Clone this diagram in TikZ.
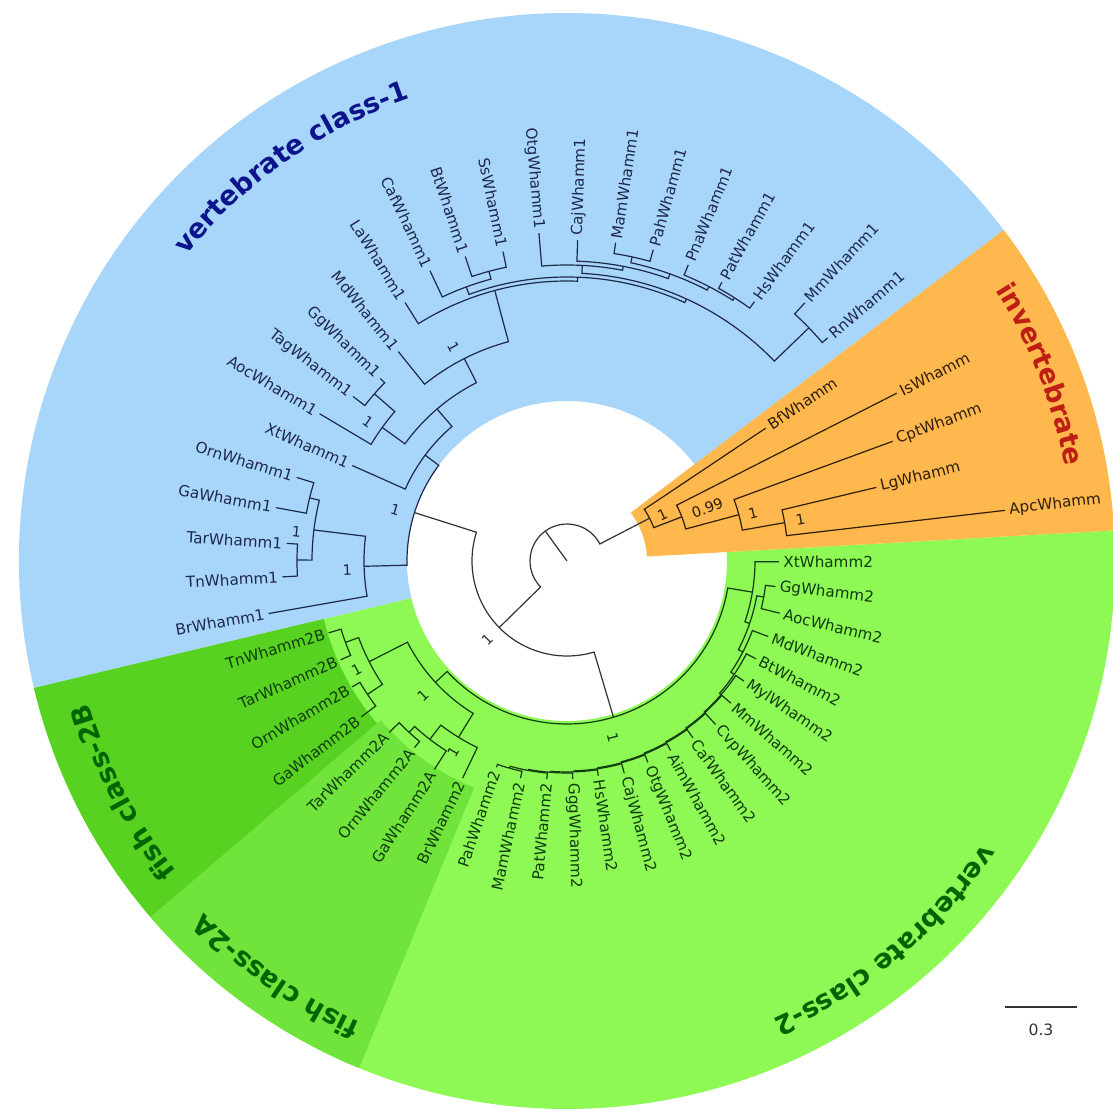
\documentclass[tikz,border=0pt]{standalone}
\usepackage{fontspec}
\setmainfont{DejaVu Sans}
\usetikzlibrary{decorations.text}
\definecolor{cblue}{RGB}{168,214,250}
\definecolor{corange}{RGB}{255,184,77}
\definecolor{cgreen}{RGB}{142,248,84}
\definecolor{cgreenA}{RGB}{112,228,58}
\definecolor{cgreenB}{RGB}{88,210,32}
\definecolor{tblue}{RGB}{12,20,140}
\definecolor{tred}{RGB}{190,30,20}
\definecolor{tgreen}{RGB}{0,100,0}
\definecolor{lone}{RGB}{30,40,75}
\definecolor{ltwo}{RGB}{15,60,15}
\definecolor{linv}{RGB}{45,30,10}
\definecolor{lzero}{RGB}{50,50,50}
\newcommand\ttlfont{\fontsize{13.5}{14}\selectfont\bfseries}
\makeatletter
\newcommand\setang[2]{\expandafter\xdef\csname ta@#1\endcsname{#2}}
\newcommand\getang[1]{\csname ta@#1\endcsname}
\newcommand\leaf[5]{%
  \pgfmathsetmacro\lfang{6.7925*#2-0.2}%
  \setang{#1}{\lfang}%
  \coordinate (#1) at (\lfang:#3);
  \pgfmathtruncatemacro\lfleft{(\lfang>90 && \lfang<270) ? 1 : 0}%
  \ifnum\lfleft=1
    \pgfmathsetmacro\lfrot{\lfang-180}%
    \node[leaflbl,#5,anchor=east,rotate=\lfrot] (#1t) at (#1) {#4};%
  \else
    \node[leaflbl,#5,anchor=west,rotate=\lfang] (#1t) at (#1) {#4};%
  \fi}
\newcommand\inode[5]{%
  \edef\inA{\getang{#2}}\edef\inB{\getang{#3}}%
  \pgfmathsetmacro\inM{(\inA+\inB)/2}%
  \setang{#1}{\inM}%
  \coordinate (#1) at (\inM:#4);
  \draw[#5] (#1) arc[start angle=\inM,end angle=\inA,radius=#4] -- (#2);
  \draw[#5] (#1) arc[start angle=\inM,end angle=\inB,radius=#4] -- (#3);}
\newcommand\nlab[5]{%
  \pgfmathtruncatemacro\nlleft{(#2>90 && #2<270) ? 1 : 0}%
  \ifnum\nlleft=1
    \pgfmathsetmacro\nlrot{#2-180}%
  \else
    \pgfmathsetmacro\nlrot{#2}%
  \fi
  \node[nodelbl,#5,rotate=\nlrot] (#1) at (#2:#3) {#4};}
\newcommand\sector[5]{%
  \fill[#5] (#1:#3) arc[start angle=#1,end angle=#2,radius=#3] -- (#2:#4) arc[start angle=#2,end angle=#1,radius=#4] -- cycle;}
\makeatother
\begin{document}
\begin{tikzpicture}[x=0.5pt,y=0.5pt,
  leaflbl/.style={font=\fontsize{7.6}{8}\selectfont,inner sep=2pt},
  nodelbl/.style={font=\fontsize{7.2}{8}\selectfont,inner sep=0pt},
  tI/.style={text=linv}, tone/.style={text=lone}, ttwo/.style={text=ltwo},
  brI/.style={draw=linv,line width=0.6pt},
  brone/.style={draw=lone,line width=0.6pt},
  brtwo/.style={draw=ltwo,line width=0.6pt},
  brzero/.style={draw=lzero,line width=0.6pt}]
\useasboundingbox (-567,-552) rectangle (546,561);
\clip (-567,-552) rectangle (546,561);
% background sectors
\sector{193.4}{363.2}{160}{548}{cgreen}
\sector{37.16}{193.4}{160}{548}{cblue}
\sector{3.2}{37.16}{80}{548}{corange}
\sector{193.4}{220.55}{250}{548}{cgreenB}
\sector{220.55}{247.7}{245}{548}{cgreenA}
% titles
\path[decorate,decoration={text along path,text align=center,text={|\ttlfont\color{tblue}|vertebrate class-1}}]
  (160:488) arc[start angle=160,end angle=90,radius=488];
\path[decorate,decoration={text along path,text align=center,text={|\ttlfont\color{tred}|invertebrate}}]
  (55:507) arc[start angle=55,end angle=-12,radius=507];
\path[decorate,decoration={text along path,text align=center,text={|\ttlfont\color{tgreen}|vertebrate class-2}}]
  (345:503) arc[start angle=345,end angle=275,radius=503];
\path[decorate,decoration={text along path,text align=center,text={|\ttlfont\color{tgreen}|fish class-2B}}]
  (240:499) arc[start angle=240,end angle=175,radius=499];
\path[decorate,decoration={text along path,text align=center,text={|\ttlfont\color{tgreen}|fish class-2A}}]
  (268:506) arc[start angle=268,end angle=202,radius=506];
% leaves: invertebrate
\leaf{Apc}{1}{441}{ApcWhamm}{tI}
\leaf{Lg}{2}{318}{LgWhamm}{tI}
\leaf{Cpt}{3}{347}{CptWhamm}{tI}
\leaf{Is}{4}{370}{IsWhamm}{tI}
\leaf{Bf}{5}{239}{BfWhamm}{tI}
% leaves: vertebrate class-1
\leaf{Rna}{6}{343}{RnWhamm1}{tone}
\leaf{Mma}{7}{351}{MmWhamm1}{tone}
\leaf{Hsa}{8}{320}{HsWhamm1}{tone}
\leaf{Pata}{9}{319}{PatWhamm1}{tone}
\leaf{Pnaa}{10}{320}{PnaWhamm1}{tone}
\leaf{Paha}{11}{323}{PahWhamm1}{tone}
\leaf{Mama}{12}{322}{MamWhamm1}{tone}
\leaf{Caja}{13}{321}{CajWhamm1}{tone}
\leaf{Otga}{14}{329}{OtgWhamm1}{tone}
\leaf{Ssa}{15}{316}{SsWhamm1}{tone}
\leaf{Bta}{16}{321}{BtWhamm1}{tone}
\leaf{Cafa}{17}{321}{CafWhamm1}{tone}
\leaf{Laa}{18}{305}{LaWhamm1}{tone}
\leaf{Mda}{19}{269}{MdWhamm1}{tone}
\leaf{Gga}{20}{261}{GgWhamm1}{tone}
\leaf{Taga}{21}{270}{TagWhamm1}{tone}
\leaf{Aoca}{22}{288}{AocWhamm1}{tone}
\leaf{Xta}{23}{235}{XtWhamm1}{tone}
\leaf{Orna}{24}{283}{OrnWhamm1}{tone}
\leaf{Gaa}{25}{296}{GaWhamm1}{tone}
\leaf{Tara}{26}{281}{TarWhamm1}{tone}
\leaf{Tna}{27}{285}{TnWhamm1}{tone}
\leaf{Bra}{28}{303}{BrWhamm1}{tone}
% leaves: fish class 2
\leaf{TnB}{29}{249}{TnWhamm2B}{ttwo}
\leaf{TarB}{30}{247}{TarWhamm2B}{ttwo}
\leaf{OrnB}{31}{249}{OrnWhamm2B}{ttwo}
\leaf{GaB}{32}{258}{GaWhamm2B}{ttwo}
\leaf{TarA}{33}{247}{TarWhamm2A}{ttwo}
\leaf{OrnA}{34}{241}{OrnWhamm2A}{ttwo}
\leaf{GaA}{35}{247}{GaWhamm2A}{ttwo}
\leaf{Brb}{36}{241}{BrWhamm2}{ttwo}
% leaves: vertebrate class-2
\leaf{Pahb}{37}{218}{PahWhamm2}{ttwo}
\leaf{Mamb}{38}{222}{MamWhamm2}{ttwo}
\leaf{Patb}{39}{219}{PatWhamm2}{ttwo}
\leaf{Gggb}{40}{218}{GggWhamm2}{ttwo}
\leaf{Hsb}{41}{217}{HsWhamm2}{ttwo}
\leaf{Cajb}{42}{220}{CajWhamm2}{ttwo}
\leaf{Otgb}{43}{217}{OtgWhamm2}{ttwo}
\leaf{Aimb}{44}{216}{AimWhamm2}{ttwo}
\leaf{Cafb}{45}{217}{CafWhamm2}{ttwo}
\leaf{Cvpb}{46}{221}{CvpWhamm2}{ttwo}
\leaf{Mmb}{47}{217}{MmWhamm2}{ttwo}
\leaf{Mylb}{48}{214}{MylWhamm2}{ttwo}
\leaf{Btb}{49}{213}{BtWhamm2}{ttwo}
\leaf{Mdb}{50}{215}{MdWhamm2}{ttwo}
\leaf{Aocb}{51}{219}{AocWhamm2}{ttwo}
\leaf{Ggb}{52}{210}{GgWhamm2}{ttwo}
\leaf{Xtb}{53}{212}{XtWhamm2}{ttwo}
% internal nodes: invertebrate
\inode{IFour}{Lg}{Apc}{221}{brI}
\inode{IThree}{Cpt}{IFour}{178}{brI}
\inode{ITwo}{Is}{IThree}{123}{brI}
\inode{IOne}{Bf}{ITwo}{93}{brI}
% class 1
\inode{Rod}{Rna}{Mma}{336}{brone}
\inode{HP}{Hsa}{Pata}{312}{brone}
\inode{HPP}{HP}{Pnaa}{309}{brone}
\inode{PM}{Paha}{Mama}{311}{brone}
\inode{Cat}{HPP}{PM}{305}{brone}
\inode{Anth}{Cat}{Caja}{300}{brone}
\inode{Prim}{Anth}{Otga}{296}{brone}
\inode{Euar}{Rod}{Prim}{288}{brone}
\inode{SB}{Ssa}{Bta}{300}{brone}
\inode{Laur}{SB}{Cafa}{292}{brone}
\inode{Bor}{Euar}{Laur}{284}{brone}
\inode{Euth}{Bor}{Laa}{280}{brone}
\inode{MamOne}{Euth}{Mda}{227}{brone}
\inode{GT}{Gga}{Taga}{255}{brone}
\inode{Saur}{GT}{Aoca}{228}{brone}
\inode{Amn}{MamOne}{Saur}{200}{brone}
\inode{Tet}{Amn}{Xta}{177}{brone}
\inode{OG}{Orna}{Gaa}{265}{brone}
\inode{TT}{Tara}{Tna}{270}{brone}
\inode{FFour}{OG}{TT}{255}{brone}
\inode{FOne}{FFour}{Bra}{203}{brone}
\inode{COne}{Tet}{FOne}{160}{brone}
% fish class 2
\inode{TnTarB}{TnB}{TarB}{236}{brtwo}
\inode{OGB}{OrnB}{GaB}{240}{brtwo}
\inode{BTwo}{TnTarB}{OGB}{222}{brtwo}
\inode{TOA}{TarA}{OrnA}{233}{brtwo}
\inode{AA}{TOA}{GaA}{225}{brtwo}
\inode{ATwo}{AA}{Brb}{207}{brtwo}
\inode{Fish}{BTwo}{ATwo}{179}{brtwo}
% tetrapod class 2
\inode{Ea}{Pahb}{Mamb}{215}{brtwo}
\inode{Eb}{Ea}{Patb}{213}{brtwo}
\inode{Ec}{Eb}{Gggb}{212}{brtwo}
\inode{Ed}{Ec}{Hsb}{211}{brtwo}
\inode{Ee}{Ed}{Cajb}{210}{brtwo}
\inode{Ef}{Ee}{Otgb}{209}{brtwo}
\inode{Eg}{Ef}{Aimb}{208}{brtwo}
\inode{Eh}{Eg}{Cafb}{207}{brtwo}
\inode{Ei}{Eh}{Cvpb}{206}{brtwo}
\inode{Ej}{Ei}{Mmb}{205}{brtwo}
\inode{Ek}{Ej}{Mylb}{204}{brtwo}
\inode{El}{Ek}{Btb}{202}{brtwo}
\inode{MTwo}{El}{Mdb}{198}{brtwo}
\inode{STwo}{Ggb}{Aocb}{200}{brtwo}
\inode{AmTwo}{MTwo}{STwo}{193}{brtwo}
\inode{TTwo}{AmTwo}{Xtb}{188}{brtwo}
\inode{CTwo}{Fish}{TTwo}{163}{brtwo}
% deep nodes
\inode{Vert}{COne}{CTwo}{95}{brzero}
\inode{Root}{IOne}{Vert}{37}{brzero}
\coordinate (ctr) at (0,0);
\draw[brzero] (ctr) -- (Root);
% node labels
\nlab{nlIOne}{25.6}{106}{1}{text=linv}
\nlab{nlITwo}{20.7}{150}{0.99}{text=linv}
\nlab{nlIThree}{14.5}{192}{1}{text=linv}
\nlab{nlIFour}{10}{237}{1}{text=linv}
\nlab{nlVert}{224.6}{112}{1}{text=lzero}
\nlab{nlCTwo}{284.6}{182}{1}{text=ltwo}
\nlab{nlCOne}{163.5}{179}{1}{text=lone}
\nlab{nlSaur}{145}{243}{1}{text=lone}
\nlab{nlFFour}{173.9}{272}{1}{text=lone}
\nlab{nlFOne}{182.3}{220}{1}{text=lone}
\nlab{nlMamOne}{118}{242}{1}{text=lone}
\nlab{nlBTwo}{207.4}{237}{1}{text=ltwo}
\nlab{nlFish}{223}{197}{1}{text=ltwo}
\nlab{nlATwo}{239.2}{222}{1}{text=ltwo}
% scale bar
\coordinate (sbL) at (438,-446);
\coordinate (sbR) at (510,-446);
\draw[draw=lzero,line width=0.6pt] (sbL) -- (sbR);
\node[font=\fontsize{7.8}{9}\selectfont,text=lzero] (sbt) at (474,-469) {0.3};
\end{tikzpicture}
\end{document}
